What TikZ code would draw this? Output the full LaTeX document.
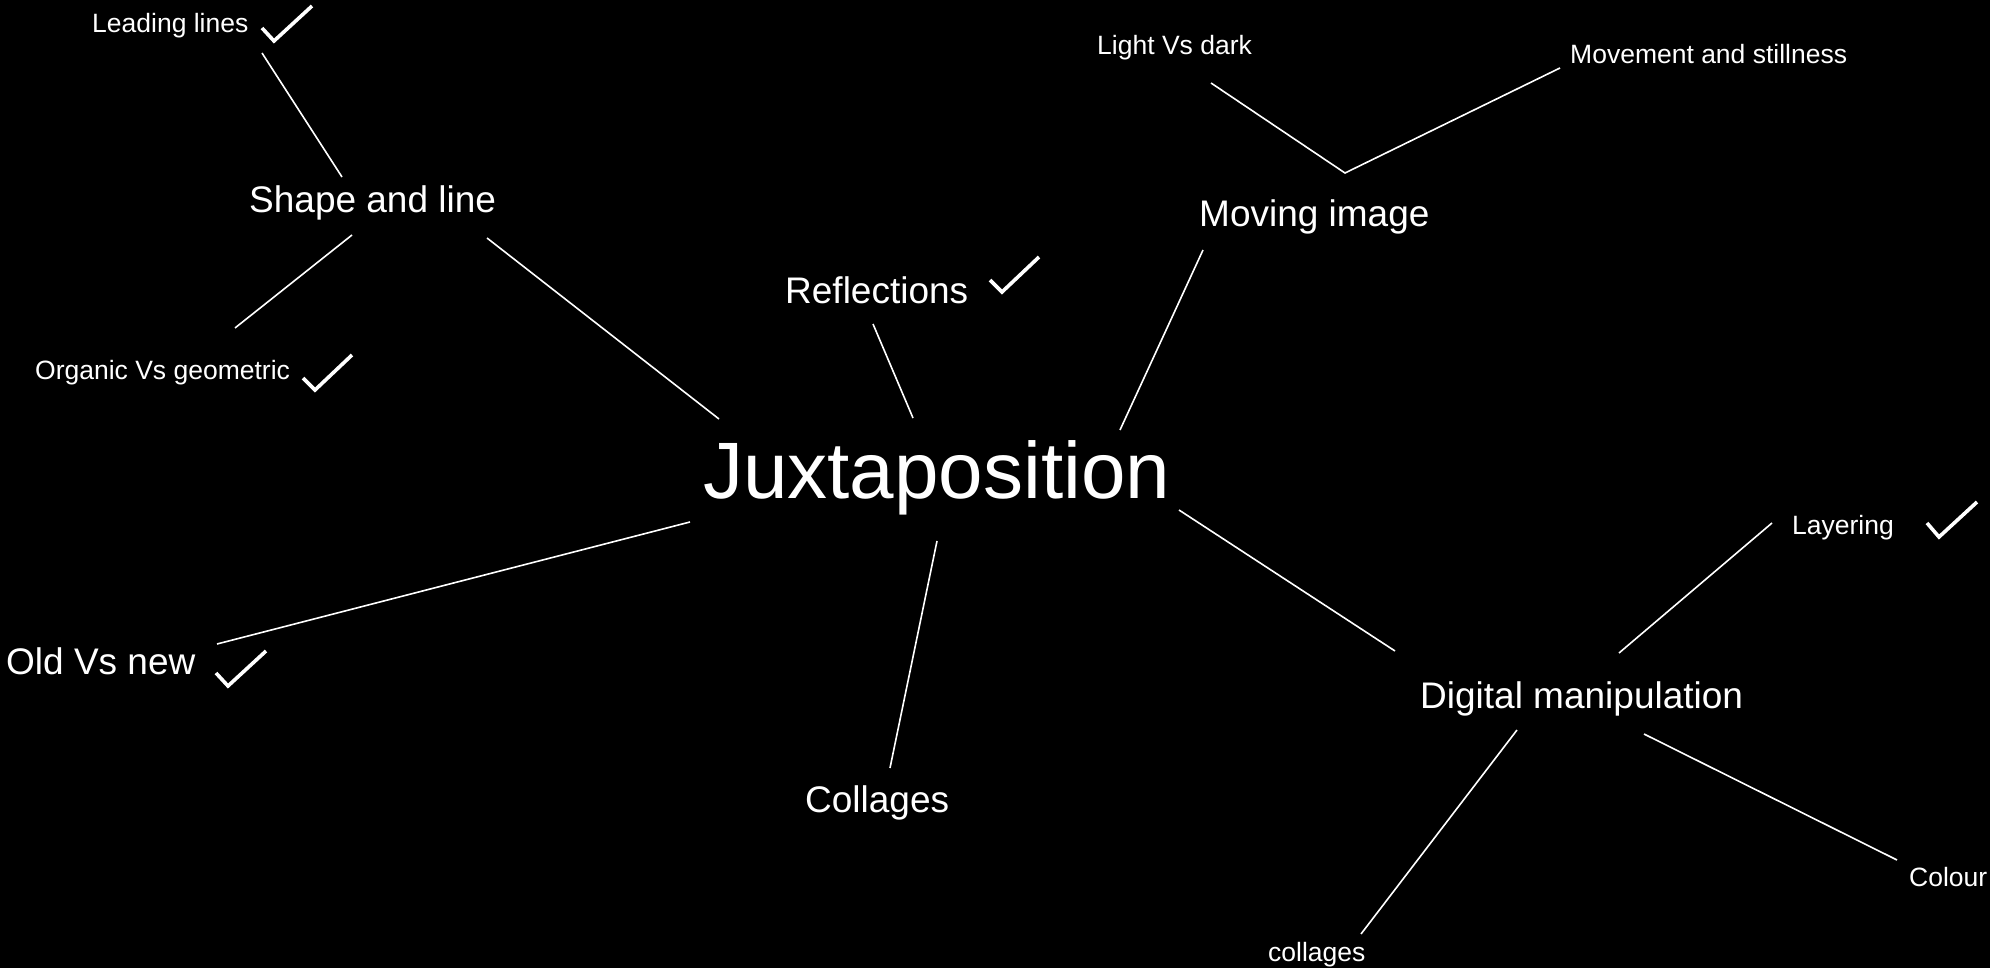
\documentclass[tikz,border=0pt]{standalone}
\usepackage{fontspec}
\setmainfont{Liberation Sans}
\begin{document}
\begin{tikzpicture}[x=1pt,y=-1pt,
  lbl/.style={text=white,inner sep=0pt,anchor=base west},
  small/.style={lbl,font=\fontsize{26.5}{30}\selectfont},
  mid/.style={lbl,font=\fontsize{37}{44}\selectfont},
  big/.style={lbl,font=\fontsize{80}{96}\selectfont},
  conn/.style={draw=white,line width=1.6pt},
  tick/.style={draw=white,line width=3.6pt,line join=miter}]
\fill[black] (0,0) rectangle (1990,968);
\useasboundingbox (0,0) rectangle (1990,968);
% texts
\node[big]   (juxt)   at (703,498) {Juxtaposition};
\node[mid]   (shape)  at (249,213) {Shape and line};
\node[small] (lead)   at (92,33)   {Leading lines};
\node[small] (organic) at (35,380) {Organic Vs geometric};
\node[mid]   (refl)   at (785,304) {Reflections};
\node[mid]   (moving) at (1199,227) {Moving image};
\node[small] (light)  at (1097,55) {Light Vs dark};
\node[small] (movement) at (1570,64) {Movement and stillness};
\node[mid]   (oldnew) at (6,674)   {Old Vs new};
\node[mid]   (coll)   at (805,812) {Collages};
\node[mid]   (digital) at (1420,708) {Digital manipulation};
\node[small] (layer)  at (1792,534) {Layering};
\node[small] (colour) at (1909,886) {Colour};
\node[small] (collsm) at (1268,961) {collages};
% connector end points
\coordinate (lead-e) at (262,53);   \coordinate (shape-n) at (342,177);
\coordinate (shape-sw) at (352,235); \coordinate (organic-e) at (235,328);
\coordinate (shape-se) at (487,238); \coordinate (juxt-nw) at (719,419);
\coordinate (refl-s) at (873,324);  \coordinate (juxt-n) at (913,418);
\coordinate (moving-s) at (1203,250); \coordinate (juxt-ne) at (1120,430);
\coordinate (light-e) at (1211,83); \coordinate (moving-v) at (1345,173);
\coordinate (movement-e) at (1560,68);
\coordinate (oldnew-e) at (217,644); \coordinate (juxt-w) at (690,522);
\coordinate (juxt-s) at (937,541);  \coordinate (coll-n) at (890,768);
\coordinate (juxt-se) at (1179,510); \coordinate (digital-n) at (1395,651);
\coordinate (digital-ne) at (1619,653); \coordinate (layer-w) at (1772,523);
\coordinate (digital-sw) at (1517,730); \coordinate (collsm-n) at (1361,934);
\coordinate (digital-se) at (1644,734); \coordinate (colour-w) at (1897,860);
% connectors
\draw[conn] (lead-e) -- (shape-n);
\draw[conn] (shape-sw) -- (organic-e);
\draw[conn] (shape-se) -- (juxt-nw);
\draw[conn] (refl-s) -- (juxt-n);
\draw[conn] (moving-s) -- (juxt-ne);
\draw[conn] (light-e) -- (moving-v) -- (movement-e);
\draw[conn] (oldnew-e) -- (juxt-w);
\draw[conn] (juxt-s) -- (coll-n);
\draw[conn] (juxt-se) -- (digital-n);
\draw[conn] (digital-ne) -- (layer-w);
\draw[conn] (digital-sw) -- (collsm-n);
\draw[conn] (digital-se) -- (colour-w);
% ticks
\draw[tick] (262,28) -- (274,41) -- (312,6);
\draw[tick] (303,378) -- (315,390) -- (352,355);
\draw[tick] (990,280) -- (1002,292) -- (1039,257);
\draw[tick] (216,673) -- (228,686) -- (266,651);
\draw[tick] (1927,523) -- (1939,537) -- (1977,502);
\end{tikzpicture}
\end{document}
